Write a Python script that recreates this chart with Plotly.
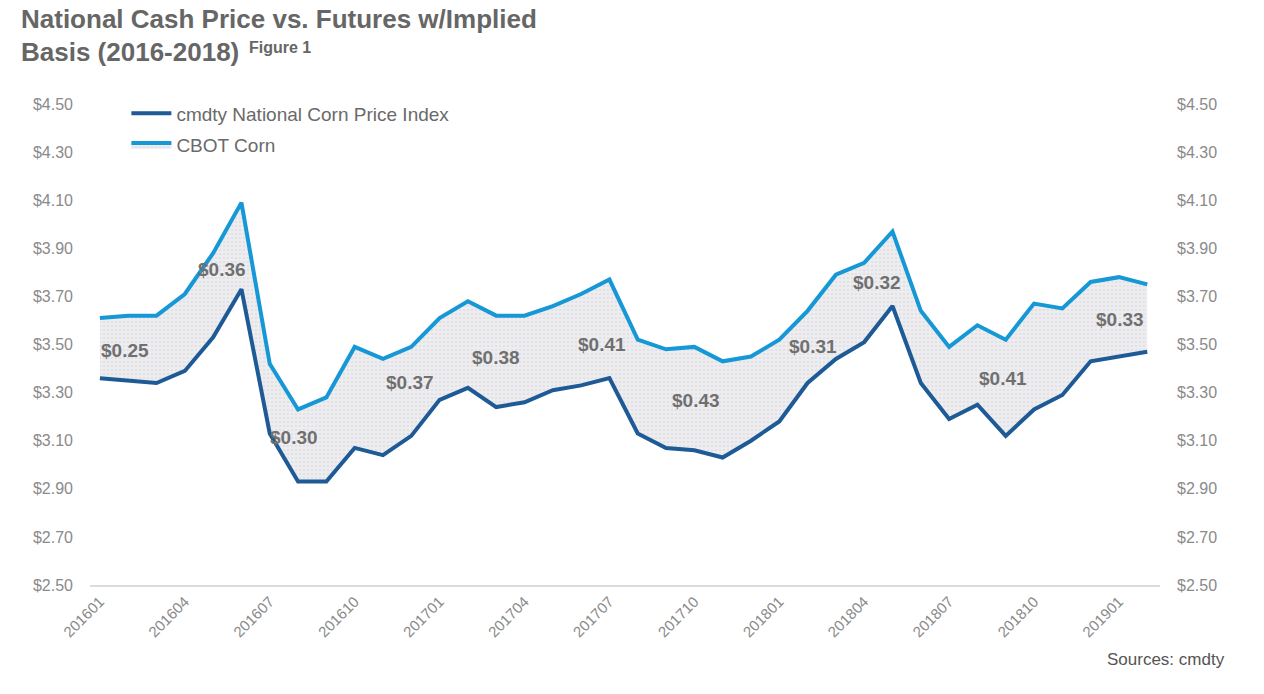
import plotly.graph_objects as go

months = [
    "201601","201602","201603","201604","201605","201606","201607","201608","201609","201610",
    "201611","201612","201701","201702","201703","201704","201705","201706","201707","201708",
    "201709","201710","201711","201712","201801","201802","201803","201804","201805","201806",
    "201807","201808","201809","201810","201811","201812","201901","201902",
]
cash_index = [
    3.36, 3.35, 3.34, 3.39, 3.53, 3.73, 3.13, 2.93, 2.93, 3.07,
    3.04, 3.12, 3.27, 3.32, 3.24, 3.26, 3.31, 3.33, 3.36, 3.13,
    3.07, 3.06, 3.03, 3.10, 3.18, 3.34, 3.44, 3.51, 3.66, 3.34,
    3.19, 3.25, 3.12, 3.23, 3.29, 3.43, 3.45, 3.47,
]
cbot_corn = [
    3.61, 3.62, 3.62, 3.71, 3.88, 4.09, 3.42, 3.23, 3.28, 3.49,
    3.44, 3.49, 3.61, 3.68, 3.62, 3.62, 3.66, 3.71, 3.77, 3.52,
    3.48, 3.49, 3.43, 3.45, 3.52, 3.64, 3.79, 3.84, 3.97, 3.64,
    3.49, 3.58, 3.52, 3.67, 3.65, 3.76, 3.78, 3.75,
]
tick_labels = ["201601","201604","201607","201610","201701","201704","201707",
               "201710","201801","201804","201807","201810","201901"]
basis_labels = ["$0.25","$0.36","$0.30","$0.37","$0.38","$0.41","$0.43",
                "$0.31","$0.32","$0.41","$0.33"]
basis_x = [0.88, 4.31, 6.86, 10.95, 13.99, 17.74, 21.06, 25.19, 27.46, 31.91, 36.04]
basis_y = [3.477, 3.81, 3.115, 3.34, 3.444, 3.502, 3.269, 3.49, 3.756, 3.36, 3.606]

FONT = "Liberation Sans, Arial, sans-serif"
DARK = "#1d5a96"
LIGHT = "#1698d6"

xi = list(range(len(months)))
tickvals = [months.index(m) for m in tick_labels]

fig = go.Figure()
fig.add_trace(go.Scatter(
    x=xi, y=cash_index, mode="lines", name="cmdty National Corn Price Index",
    line=dict(color=DARK, width=4), legendgroup="a",
))
fig.add_trace(go.Scatter(
    x=xi, y=cbot_corn, mode="lines", name="CBOT Corn",
    line=dict(color=LIGHT, width=4), legendgroup="b",
    fill="tonexty", fillcolor="#ececef",
    fillpattern=dict(shape=".", bgcolor="#eeeef1", fgcolor="#d6d6dc", size=4, solidity=0.35),
))
fig.add_trace(go.Scatter(
    x=xi, y=cash_index, mode="lines", yaxis="y2", showlegend=False,
    line=dict(color="rgba(0,0,0,0)", width=0), hoverinfo="skip",
))

for t, x, y in zip(basis_labels, basis_x, basis_y):
    fig.add_annotation(x=x, y=y, xref="x", yref="y", text="<b>" + t + "</b>",
                       showarrow=False, font=dict(family=FONT, size=19, color="#707070"))

fig.add_annotation(xref="paper", yref="paper", x=-0.066, y=1.177, xanchor="left", yanchor="middle",
                   text="<b>National Cash Price vs. Futures w/Implied</b>", showarrow=False,
                   font=dict(family=FONT, size=26, color="#666666"))
fig.add_annotation(xref="paper", yref="paper", x=-0.066, y=1.108, xanchor="left", yanchor="middle",
                   text="<b>Basis (2016-2018)</b>", showarrow=False,
                   font=dict(family=FONT, size=26, color="#666666"))
fig.add_annotation(xref="paper", yref="paper", x=0.1465, y=1.118, xanchor="left", yanchor="middle",
                   text="<b>Figure 1</b>", showarrow=False,
                   font=dict(family=FONT, size=16, color="#666666"))
fig.add_annotation(xref="paper", yref="paper", x=1.063, y=-0.155, xanchor="right", yanchor="middle",
                   text="Sources: cmdty", showarrow=False,
                   font=dict(family=FONT, size=17, color="#555555"))

yax = dict(range=[2.5, 4.5], tick0=2.5, dtick=0.2, tickprefix="$", tickformat=".2f",
           showgrid=False, zeroline=False, showline=False,
           tickfont=dict(family=FONT, size=16, color="#8a8a8a"), fixedrange=True)

fig.update_layout(
    width=1264, height=694,
    margin=dict(l=90, r=104, t=104, b=109),
    paper_bgcolor="white", plot_bgcolor="white",
    font=dict(family=FONT, color="#666666"),
    xaxis=dict(range=[-0.35, 37.45], tickvals=tickvals, ticktext=tick_labels, tickangle=-45,
               showgrid=False, zeroline=False, showline=True, linecolor="#dcdcdc", linewidth=2,
               ticks="", tickfont=dict(family=FONT, size=15, color="#8a8a8a")),
    yaxis=dict(**yax, side="left", ticklabelstandoff=16),
    yaxis2=dict(**yax, side="right", overlaying="y", ticklabelstandoff=16),
    legend=dict(x=0.034, y=1.02, xanchor="left", yanchor="top", bgcolor="rgba(0,0,0,0)",
                font=dict(family=FONT, size=19, color="#6a6a6a"), tracegroupgap=4,
                itemwidth=40),
    showlegend=True,
)

fig.write_html("out.html")
